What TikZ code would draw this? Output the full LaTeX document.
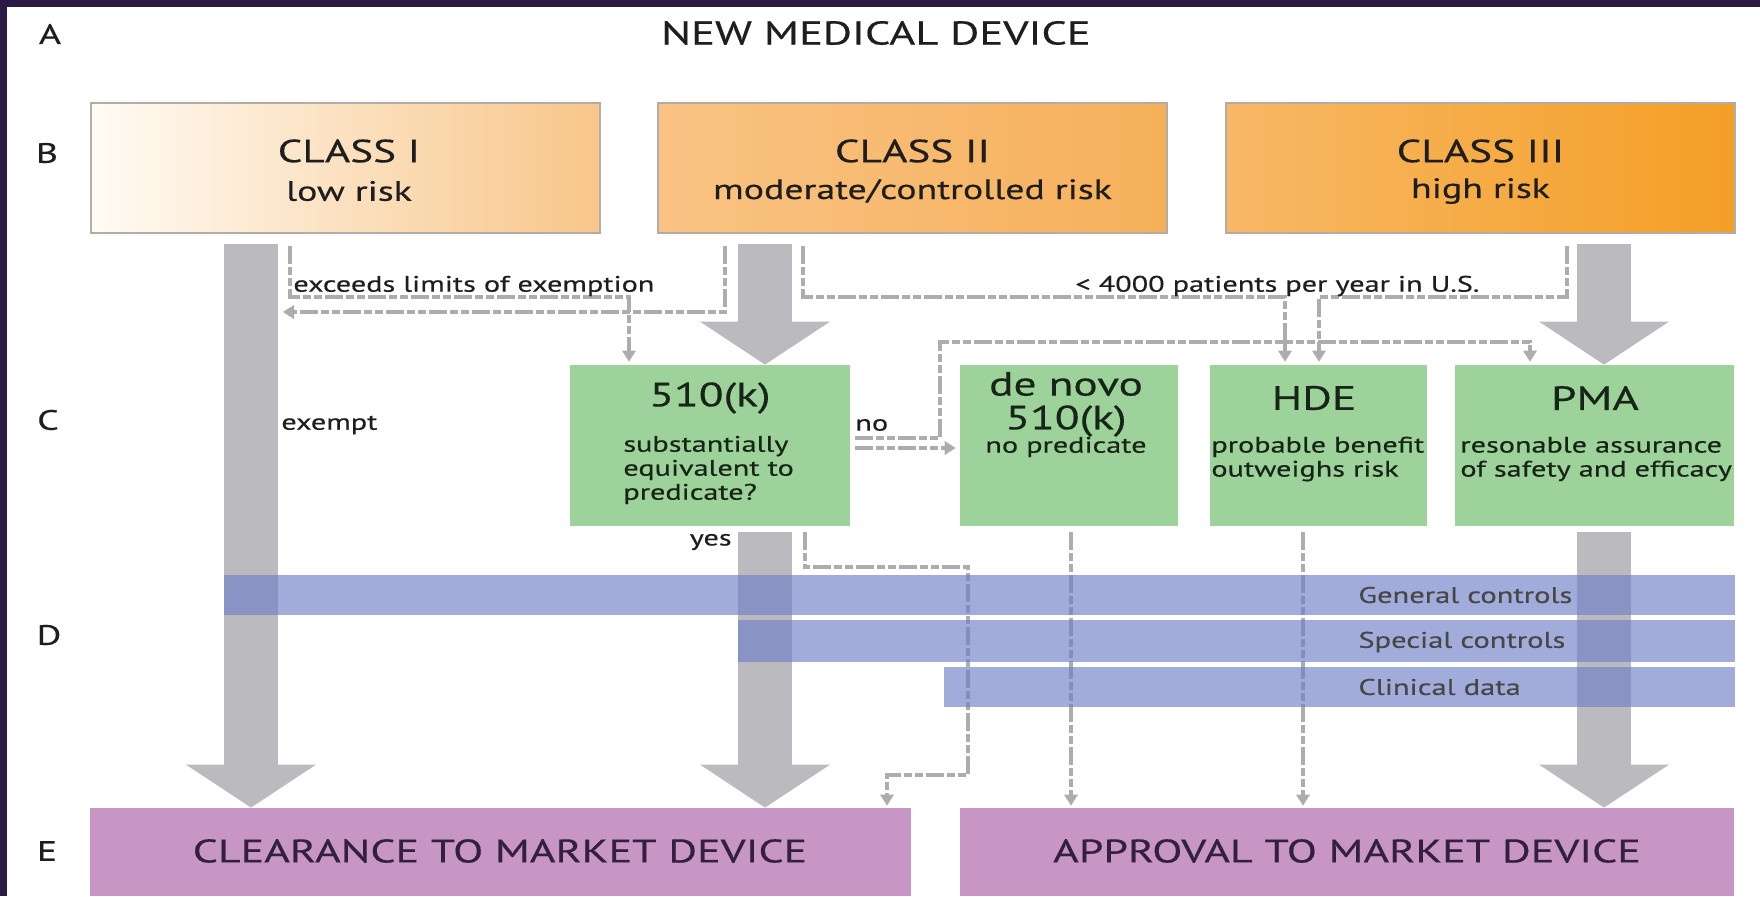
\documentclass[tikz,border=0pt]{standalone}
\usepackage{fontspec}
\setmainfont{PT Sans}[FakeStretch=1.35, FakeBold=0.4]
\usetikzlibrary{arrows.meta}
\definecolor{frame}{HTML}{2C1A45}
\definecolor{boxgray}{HTML}{B3ADA6}
\definecolor{cIl}{HTML}{FFFBF5}
\definecolor{cIr}{HTML}{F8C68A}
\definecolor{cIIl}{HTML}{F9C384}
\definecolor{cIIr}{HTML}{F6B05A}
\definecolor{cIIIl}{HTML}{F8B866}
\definecolor{cIIIr}{HTML}{F49F26}
\definecolor{boxgreen}{HTML}{9DD29A}
\definecolor{bandblue}{RGB}{108,124,199}
\definecolor{endpink}{HTML}{C896C5}
\definecolor{bargray}{HTML}{BBBBBF}
\definecolor{dashgray}{HTML}{ADADB0}
\definecolor{txt}{HTML}{1E1E1E}
\definecolor{pinktxt}{HTML}{33203F}
\definecolor{greentxt}{HTML}{172517}
\begin{document}
\begin{tikzpicture}[x=0.5pt,y=-0.5pt,
  classbox/.style={draw=boxgray, line width=1pt, minimum width=254.5pt, minimum height=65pt, inner sep=0pt},
  greenbox/.style={fill=boxgreen, minimum height=80.5pt, inner sep=0pt},
  band/.style={fill=bandblue, fill opacity=0.63, text opacity=1, minimum height=20pt, inner sep=0pt},
  endbox/.style={fill=endpink, minimum height=44pt, inner sep=0pt},
  bigarrow/.style={draw=bargray, line width=27pt, -{Triangle[width=65pt,length=21.5pt,line width=0pt]}},
  flowdash/.style={draw=dashgray, line width=1.8pt, dash pattern=on 9pt off 1.5pt on 4pt off 1.5pt on 4pt off 1.5pt, -{Triangle[width=7pt,length=5.5pt,line width=0pt]}},
  rowlbl/.style={text=txt, inner sep=0pt, font=\fontsize{14pt}{17pt}\selectfont},
  ttl/.style={text=txt, inner sep=0pt, font=\fontsize{16pt}{20pt}\selectfont},
  maintitle/.style={text=txt, inner sep=0pt, font=\fontsize{16.5pt}{20pt}\selectfont},
  subttl/.style={text=txt, inner sep=0pt, font=\fontsize{14pt}{16pt}\selectfont},
  gttl/.style={text=greentxt, inner sep=0pt, font=\fontsize{16.8pt}{20pt}\selectfont},
  gbody/.style={text=greentxt, inner sep=0pt, align=left, font=\fontsize{11.2pt}{12pt}\selectfont},
  small/.style={text=txt, inner sep=0pt, font=\fontsize{11.2pt}{13pt}\selectfont},
  bandtxt/.style={text=black!72, inner sep=0pt, anchor=west, font=\fontsize{11.3pt}{13pt}\selectfont},
  endtxt/.style={text=pinktxt, inner sep=0pt, font=\fontsize{16.3pt}{19pt}\selectfont}
]
\fill[frame] (0,0) rectangle (1760,896);
\fill[white] (7,7) rectangle (1760,896);
\useasboundingbox (0,0) rectangle (1760,896);

% row labels and title
\node[rowlbl] (rA) at (50,34) {A};
\node[rowlbl] (rB) at (47,153) {B};
\node[rowlbl] (rC) at (48,420) {C};
\node[rowlbl] (rD) at (49,635) {D};
\node[rowlbl] (rE) at (47,851) {E};
\node[maintitle] (title) at (876,33) {NEW MEDICAL DEVICE};

% class boxes
\node[classbox, left color=cIl, right color=cIr] (c1) at (345,168) {};
\node[classbox, left color=cIIl, right color=cIIr] (c2) at (912.5,168) {};
\node[classbox, left color=cIIIl, right color=cIIIr] (c3) at (1480.5,168) {};
\node[ttl] (c1a) at (349,151) {CLASS I};
\node[subttl] (c1b) at (349,191) {low risk};
\node[ttl] (c2a) at (912.5,151) {CLASS II};
\node[subttl] (c2b) at (912.5,191) {moderate/controlled risk};
\node[ttl] (c3a) at (1480.5,151) {CLASS III};
\node[subttl] (c3b) at (1480.5,191) {high risk};

% pathway boxes
\node[greenbox, minimum width=140pt] (k510) at (710,445.5) {};
\node[greenbox, minimum width=109pt] (denovo) at (1069,445.5) {};
\node[greenbox, minimum width=108.5pt] (hde) at (1318.5,445.5) {};
\node[greenbox, minimum width=139.5pt] (pma) at (1594.5,445.5) {};
\node[gttl] (k510t) at (710,398) {510(k)};
\node[gbody, anchor=west] (k510b) at (623,470) {substantially\\equivalent to\\predicate?};
\node[gttl] (dnt1) at (1066,384) {de novo};
\node[gttl] (dnt2) at (1066,421) {510(k)};
\node[gbody] (dnb) at (1066,447) {no predicate};
\node[gttl] (hdet) at (1314,398) {HDE};
\node[gbody, anchor=west] (hdeb) at (1211,459) {probable benefit\\outweighs risk};
\node[gttl] (pmat) at (1595,398) {PMA};
\node[gbody, anchor=west] (pmab) at (1460,459) {resonable assurance\\of safety and efficacy};

% end boxes
\node[endbox, minimum width=410.5pt] (clear) at (500.5,852) {};
\node[endbox, minimum width=387pt] (approve) at (1347,852) {};

% big grey flows
\draw[bigarrow, shorten <=5pt] (c1.south -| 251,0) -- (clear.north -| 251,0);
\draw[bigarrow, shorten <=5pt] (c2.south -| 765,0) -- (k510.north -| 765,0);
\draw[bigarrow, shorten <=3pt] (k510.south -| 765,0) -- (clear.north -| 765,0);
\draw[bigarrow, shorten <=5pt] (c3.south -| 1604,0) -- (pma.north -| 1604,0);
\draw[bigarrow, shorten <=3pt] (pma.south -| 1604,0) -- (approve.north -| 1604,0);

% dashed flows
\coordinate (exemptIn) at (283,312);
\draw[flowdash, shorten <=6pt, shorten >=1.5pt] (c1.south -| 290,0) -- (290,297) -- (629,297) -- (k510.north -| 629,0);
\draw[flowdash, shorten <=6pt] (c2.south -| 725,0) -- (725,312) -- (exemptIn);
\draw[flowdash, shorten <=6pt, shorten >=1.5pt] (c2.south -| 803,0) -- (803,297) -- (1285,297) -- (hde.north -| 1285,0);
\draw[flowdash, shorten <=6pt, shorten >=1.5pt] (c3.south -| 1567,0) -- (1567,297) -- (1319,297) -- (hde.north -| 1319,0);
\draw[flowdash, shorten <=2.5pt, shorten >=1.5pt] (k510.east |- 0,438) -- (940,438) -- (940,342) -- (1530,342) -- (pma.north -| 1530,0);
\draw[flowdash, shorten <=2.5pt, shorten >=2pt] (k510.east |- 0,448) -- (denovo.west |- 0,448);
\draw[flowdash, shorten <=3pt, shorten >=1pt] (k510.south -| 805,0) -- (805,567) -- (968,567) -- (968,775) -- (887,775) -- (clear.north -| 887,0);
\draw[flowdash, shorten <=3pt, shorten >=1pt] (denovo.south -| 1071,0) -- (approve.north -| 1071,0);
\draw[flowdash, shorten <=3pt, shorten >=1pt] (hde.south -| 1303,0) -- (approve.north -| 1303,0);

% control bands
\node[band, minimum width=755.5pt] (gen) at (979.5,595) {};
\node[band, minimum width=498.5pt, minimum height=21pt] (spec) at (1236.5,641) {};
\node[band, minimum width=395.5pt] (clin) at (1339.5,687) {};
\node[bandtxt] (gent) at (1358,595) {General controls};
\node[bandtxt] (spect) at (1358,642) {Special controls};
\node[bandtxt] (clint) at (1358,687) {Clinical data};

% flow labels
\node[small, anchor=west] (lexc) at (293,286) {exceeds limits of exemption};
\node[small, anchor=west] (lpat) at (1075,286) {< 4000 patients per year in U.S.};
\node[small, anchor=west] (lexempt) at (281,425) {exempt};
\node[small, anchor=west] (lno) at (855,425) {no};
\node[small, anchor=east] (lyes) at (732,542) {yes};

% end texts
\node[endtxt] (cleart) at (500,851) {CLEARANCE TO MARKET DEVICE};
\node[endtxt] (approvet) at (1347,851) {APPROVAL TO MARKET DEVICE};
\end{tikzpicture}
\end{document}
